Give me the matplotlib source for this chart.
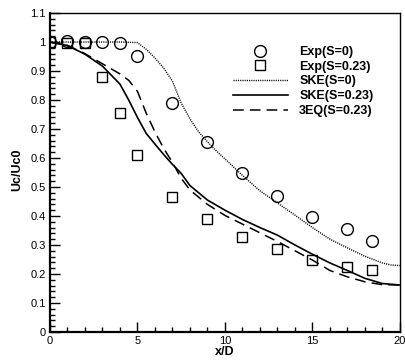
import numpy as np
import matplotlib
matplotlib.use("Agg")
import matplotlib.pyplot as plt
from matplotlib.ticker import MultipleLocator, FormatStrFormatter

plt.rcParams["font.family"] = ["Liberation Sans", "DejaVu Sans"]

# ---------------------------------------------------
# Data
# ---------------------------------------------------

x_exp = [0, 1, 2, 3, 4, 5, 7, 9, 11, 13, 15, 17, 18.4]
exp_s0 = [1.0, 1.003, 0.999, 0.999, 0.995, 0.952, 0.79, 0.656, 0.549, 0.469, 0.397, 0.355, 0.315]

x_exp23 = [0, 1, 2, 3, 4, 5, 7, 9, 11, 13, 15, 17, 18.4]
exp_s23 = [1.0, 0.995, 0.997, 0.88, 0.754, 0.61, 0.466, 0.388, 0.327, 0.285, 0.249, 0.223, 0.214]

x_ske0 = [0, 1, 2, 3, 4, 5, 5.5, 6, 6.5, 7, 7.5, 8, 8.5, 9, 9.5, 10,
          11, 12, 13, 14, 15, 16, 17, 18, 19, 19.5, 20]
ske_s0 = [1.0, 1.0, 1.0, 1.0, 1.0, 0.998, 0.975, 0.945, 0.91, 0.865, 0.79,
          0.735, 0.69, 0.656, 0.625, 0.597, 0.54, 0.487, 0.445, 0.403, 0.36,
          0.32, 0.29, 0.261, 0.238, 0.231, 0.229]

x_model = [0, 1, 2, 3, 4, 4.5, 5, 5.5, 6, 6.5, 7, 7.5, 8, 9, 10,
           11, 12, 13, 14, 15, 16, 17, 18, 19, 20]
ske_s23 = [1.0, 0.988, 0.958, 0.917, 0.855, 0.8, 0.74, 0.685, 0.648, 0.612,
           0.578, 0.547, 0.505, 0.455, 0.42, 0.388, 0.36, 0.334, 0.3, 0.268,
           0.238, 0.212, 0.185, 0.167, 0.162]
eq3_s23 = [1.0, 0.988, 0.96, 0.925, 0.89, 0.868, 0.83, 0.755, 0.69, 0.633,
           0.585, 0.53, 0.49, 0.44, 0.402, 0.372, 0.342, 0.312, 0.28, 0.248,
           0.212, 0.19, 0.173, 0.163, 0.162]

# ---------------------------------------------------
# Figure
# ---------------------------------------------------

fig = plt.figure(figsize=(4.06, 3.62), dpi=100)
ax = fig.add_axes([0.123, 0.083, 0.862, 0.881])

ax.plot(x_exp, exp_s0, linestyle="none", marker="o", markersize=8.5,
        markerfacecolor="none", markeredgecolor="black", markeredgewidth=1.0,
        label="Exp(S=0)", zorder=4)
ax.plot(x_exp23, exp_s23, linestyle="none", marker="s", markersize=6.5,
        markerfacecolor="none", markeredgecolor="black", markeredgewidth=1.0,
        label="Exp(S=0.23)", zorder=4)
ax.plot(x_ske0, ske_s0, color="black", linewidth=1.0,
        linestyle=(0, (0.8, 0.8)), label="SKE(S=0)")
ax.plot(x_model, ske_s23, color="black", linewidth=1.2,
        linestyle="-", label="SKE(S=0.23)")
ax.plot(x_model, eq3_s23, color="black", linewidth=1.1,
        linestyle=(0, (7, 4)), label="3EQ(S=0.23)")

ax.set_xlim(0, 20)
ax.set_ylim(0, 1.1)

ax.xaxis.set_major_locator(MultipleLocator(5))
ax.xaxis.set_minor_locator(MultipleLocator(1))
ax.yaxis.set_major_locator(MultipleLocator(0.1))
ax.yaxis.set_minor_locator(MultipleLocator(0.02))
ax.yaxis.set_major_formatter(FormatStrFormatter("%g"))

ax.tick_params(which="both", direction="in", top=False, right=False,
               labelsize=8, width=1.0)
ax.tick_params(which="major", length=7, pad=3)
ax.tick_params(which="minor", length=3.5)

for side in ["left", "bottom"]:
    ax.spines[side].set_linewidth(1.6)
for side in ["top", "right"]:
    ax.spines[side].set_linewidth(1.0)

ax.set_xlabel("x/D", fontsize=9, fontweight="bold", labelpad=0)
ax.set_ylabel("Uc/Uc0", fontsize=9, fontweight="bold", labelpad=0)
ax.yaxis.set_label_coords(-0.077, 0.51)

ax.legend(loc="upper left", bbox_to_anchor=(0.523, 0.897), frameon=False,
          prop={"size": 9, "weight": "bold"}, handlelength=4.4,
          handletextpad=0.9, borderpad=0, borderaxespad=0,
          labelspacing=0.22, numpoints=1)

fig.savefig("out.png", dpi=100)
plt.close(fig)
